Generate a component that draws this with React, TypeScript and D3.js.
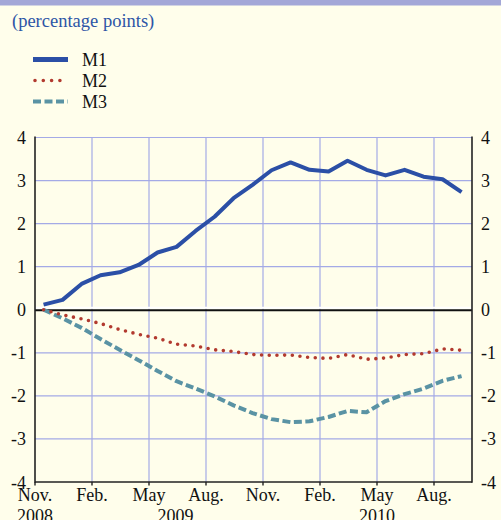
import React, { useEffect, useRef } from 'react';
import * as d3 from 'd3';

// monthly observations, Nov. 2008 .. Sep. 2010
const m1 = [0.12, 0.23, 0.6, 0.8, 0.87, 1.04, 1.33, 1.46, 1.83, 2.16, 2.59, 2.9, 3.24, 3.42, 3.25, 3.21, 3.46, 3.25, 3.12, 3.25, 3.09, 3.03, 2.73];
const m2 = [0, -0.12, -0.21, -0.32, -0.46, -0.57, -0.66, -0.8, -0.84, -0.93, -0.97, -1.04, -1.06, -1.05, -1.11, -1.13, -1.04, -1.15, -1.12, -1.04, -1.02, -0.91, -0.94];
const m3 = [0, -0.2, -0.42, -0.68, -0.93, -1.17, -1.42, -1.66, -1.83, -2.01, -2.22, -2.4, -2.54, -2.61, -2.59, -2.49, -2.35, -2.38, -2.12, -1.96, -1.83, -1.65, -1.54];

const monthTicks = [0, 3, 6, 9, 12, 15, 18, 21];
const monthLabels = ['Nov.', 'Feb.', 'May', 'Aug.', 'Nov.', 'Feb.', 'May', 'Aug.'];
const yearLabels = ['2008', '2009', '2010'];
const yearPos = [0, 7.4, 18];
const yTicks = [4, 3, 2, 1, 0, -1, -2, -3, -4];

const series = [
  { name: 'M1', values: m1, color: '#2b4fa6', width: 4, dash: null, cap: 'butt' },
  { name: 'M2', values: m2, color: '#b23a2f', width: 3.6, dash: '0 7.7', cap: 'round' },
  { name: 'M3', values: m3, color: '#5a93a4', width: 4, dash: '8 3.5', cap: 'butt' },
];

const W = 501;
const H = 520;
const font = "'Liberation Serif', 'Times New Roman', Times, 'DejaVu Serif', serif";

export default function App() {
  const ref = useRef<SVGSVGElement>(null);

  useEffect(() => {
    const svg = d3.select(ref.current);
    svg.selectAll('*').remove();

    const left = 35, right = 472, top = 137.5, bottom = 482;
    const x = d3.scaleLinear().domain([0, 23]).range([left, right]);
    const y = d3.scaleLinear().domain([-4, 4]).range([bottom, top]);

    svg.append('rect').attr('width', W).attr('height', H).attr('fill', '#fffeeb');
    svg.append('rect').attr('width', W).attr('height', 5.5).attr('fill', '#a3a7d7');

    svg.append('text')
      .attr('x', 12).attr('y', 27)
      .style('font-family', font)
      .attr('font-size', 18.5)
      .attr('fill', '#2d55a6')
      .text('(percentage points)');

    // legend
    series.forEach((s, i) => {
      const ly = 59.5 + i * 21;
      svg.append('line')
        .attr('x1', s.dash === '0 7.7' ? 35 : 33).attr('x2', 68)
        .attr('y1', ly).attr('y2', ly)
        .attr('stroke', s.color)
        .attr('stroke-width', i === 0 ? 5 : s.width)
        .attr('stroke-dasharray', s.dash === '0 7.7' ? '0 8.3' : s.dash)
        .attr('stroke-linecap', s.cap);
      svg.append('text')
        .attr('x', 82).attr('y', ly + 6.5)
        .style('font-family', font)
        .attr('font-size', 18)
        .attr('fill', '#111')
        .text(s.name);
    });

    // grid
    const g = svg.append('g');
    yTicks.filter(t => t !== 0 && t !== -4).forEach(t => {
      g.append('line')
        .attr('x1', left).attr('x2', right)
        .attr('y1', y(t)).attr('y2', y(t))
        .attr('stroke', '#a4aae6').attr('stroke-width', 1.2);
    });
    monthTicks.slice(1).forEach(m => {
      g.append('line')
        .attr('x1', x(m)).attr('x2', x(m))
        .attr('y1', top).attr('y2', bottom)
        .attr('stroke', '#a4aae6').attr('stroke-width', 1.2);
    });

    // zero line
    svg.append('line')
      .attr('x1', left).attr('x2', right)
      .attr('y1', y(0) - 2).attr('y2', y(0) - 2)
      .attr('stroke', '#ffffff').attr('stroke-width', 2.2);
    svg.append('line')
      .attr('x1', left).attr('x2', right)
      .attr('y1', y(0) + 0.5).attr('y2', y(0) + 0.5)
      .attr('stroke', '#111').attr('stroke-width', 1.8);

    // axes frame
    [left, right].forEach(ax => {
      svg.append('line')
        .attr('x1', ax).attr('x2', ax)
        .attr('y1', top - 1).attr('y2', bottom + 0.8)
        .attr('stroke', '#222').attr('stroke-width', 1.6);
    });
    svg.append('line')
      .attr('x1', left).attr('x2', right)
      .attr('y1', bottom).attr('y2', bottom)
      .attr('stroke', '#222').attr('stroke-width', 1.6);
    monthTicks.forEach(m => {
      svg.append('line')
        .attr('x1', x(m)).attr('x2', x(m))
        .attr('y1', bottom).attr('y2', bottom + 3.5)
        .attr('stroke', '#222').attr('stroke-width', 1.4);
    });

    // y labels
    yTicks.forEach(t => {
      svg.append('text')
        .attr('x', 26).attr('y', y(t) + 6.5)
        .attr('text-anchor', 'end')
        .style('font-family', font).attr('font-size', 18).attr('fill', '#111')
        .text(String(t));
      svg.append('text')
        .attr('x', 481).attr('y', y(t) + 6.5)
        .attr('text-anchor', 'start')
        .style('font-family', font).attr('font-size', 18).attr('fill', '#111')
        .text(String(t));
    });

    // x labels
    monthTicks.forEach((m, i) => {
      svg.append('text')
        .attr('x', x(m)).attr('y', 500.5)
        .attr('text-anchor', 'middle')
        .style('font-family', font).attr('font-size', 18).attr('fill', '#111')
        .text(monthLabels[i]);
    });
    yearLabels.forEach((lab, i) => {
      svg.append('text')
        .attr('x', x(yearPos[i])).attr('y', 522)
        .attr('text-anchor', 'middle')
        .style('font-family', font).attr('font-size', 18).attr('fill', '#111')
        .text(lab);
    });

    // series
    const line = d3.line<number>()
      .x((_, i) => x(i + 0.45))
      .y(d => y(d));
    [series[2], series[1], series[0]].forEach(s => {
      svg.append('path')
        .attr('d', line(s.values))
        .attr('fill', 'none')
        .attr('stroke', s.color)
        .attr('stroke-width', s.width)
        .attr('stroke-dasharray', s.dash)
        .attr('stroke-linecap', s.cap)
        .attr('stroke-linejoin', 'round');
    });
  }, []);

  return (
    <div style={{ position: 'absolute', left: 0, top: 0 }}>
      <svg ref={ref} width={W} height={H} style={{ display: 'block' }} />
    </div>
  );
}
